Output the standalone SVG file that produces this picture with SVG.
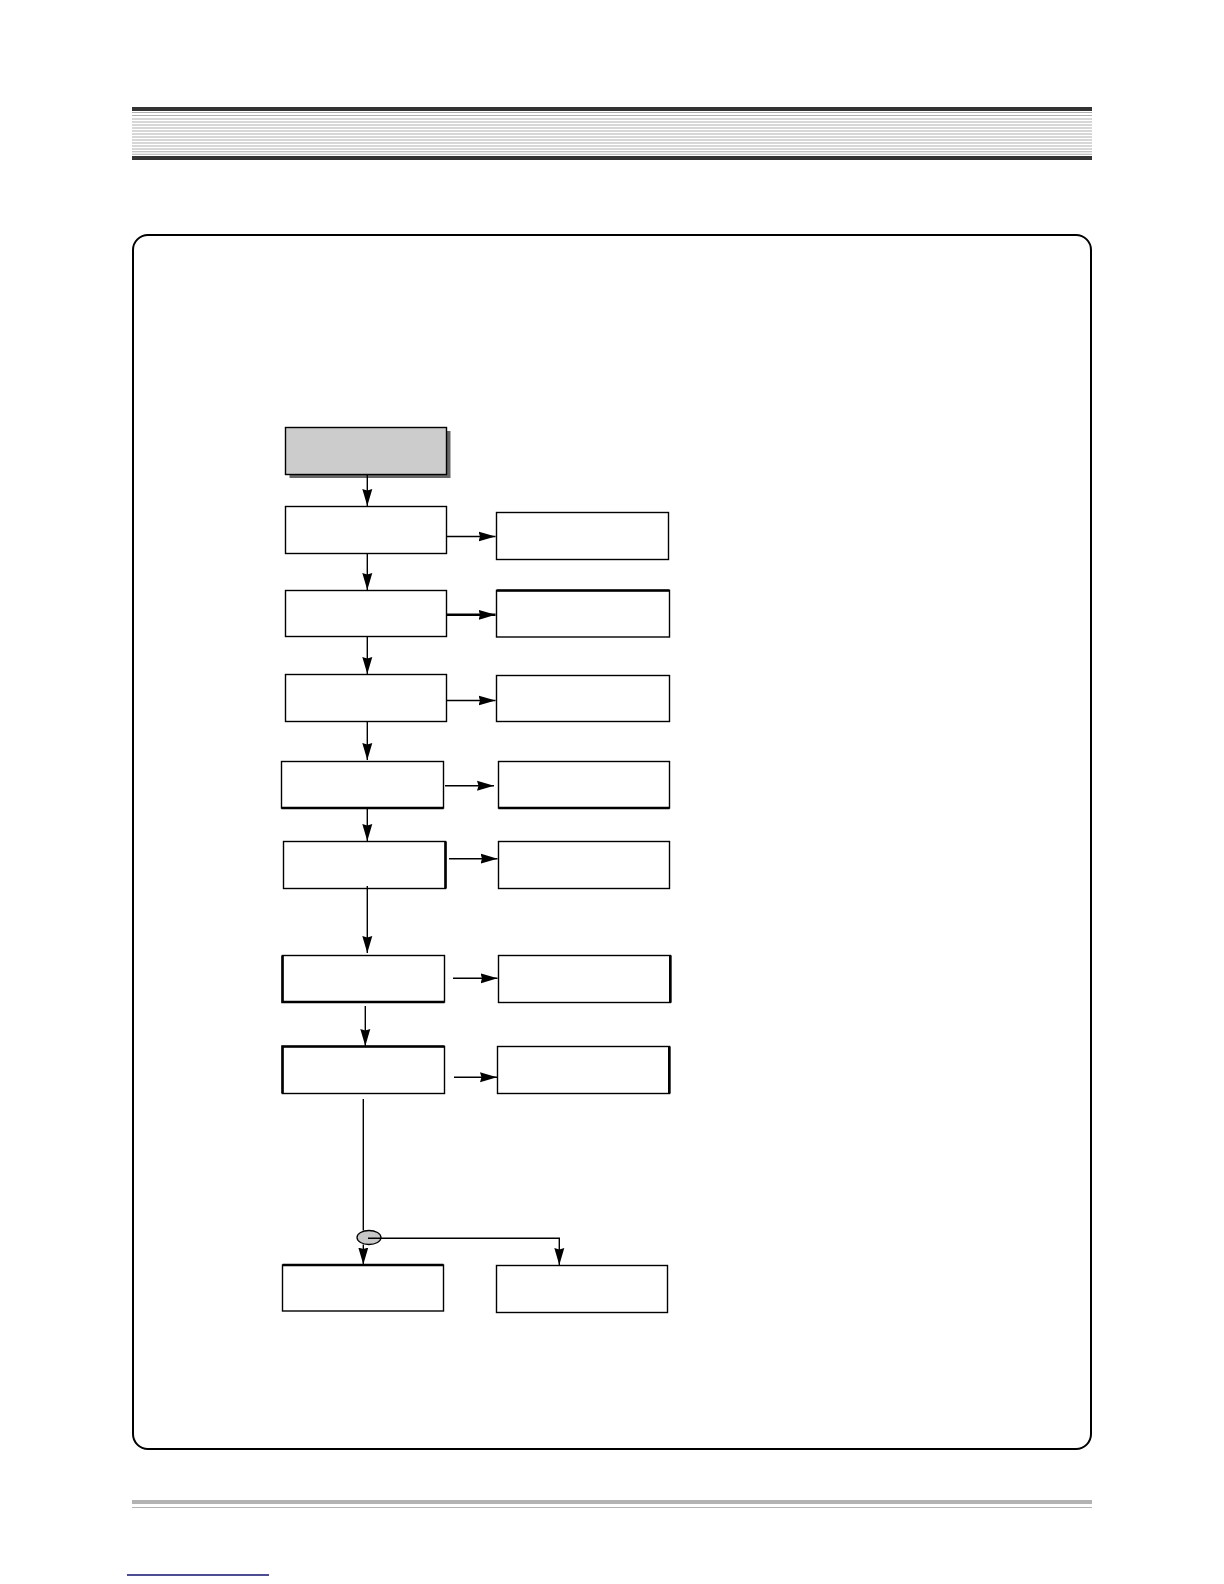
<svg xmlns="http://www.w3.org/2000/svg" width="1224" height="1584" viewBox="0 0 1224 1584">
<style>
.box{fill:#fff;stroke:#000;stroke-width:1.4}
.thick{stroke:#000;stroke-width:2.6;fill:none}
.c{stroke:#000;stroke-width:1.4;fill:none}
.cb{stroke:#000;stroke-width:2.4;fill:none}
.stripe{stroke:#b0b0b0;stroke-width:1.1}
</style>
<defs>
<marker id="ah" markerUnits="userSpaceOnUse" markerWidth="18" markerHeight="11" refX="17" refY="5.5" orient="auto" viewBox="0 0 18 11">
<path d="M0,0.5 L17,5.5 L0,10.5 L1.5,5.5 Z" fill="#000"/>
</marker>
</defs>
<rect width="1224" height="1584" fill="#fff"/>
<g id="header">
<rect x="132" y="107" width="960" height="4" fill="#333"/>
<g class="stripe">
<line x1="132" y1="112.5" x2="1092" y2="112.5"/>
<line x1="132" y1="115.5" x2="1092" y2="115.5"/>
<line x1="132" y1="119" x2="1092" y2="119"/>
<line x1="132" y1="122" x2="1092" y2="122"/>
<line x1="132" y1="125" x2="1092" y2="125"/>
<line x1="132" y1="128" x2="1092" y2="128"/>
<line x1="132" y1="131" x2="1092" y2="131"/>
<line x1="132" y1="134" x2="1092" y2="134"/>
<line x1="132" y1="137" x2="1092" y2="137"/>
<line x1="132" y1="140" x2="1092" y2="140"/>
<line x1="132" y1="143" x2="1092" y2="143"/>
<line x1="132" y1="146" x2="1092" y2="146"/>
<line x1="132" y1="149" x2="1092" y2="149"/>
<line x1="132" y1="151.7" x2="1092" y2="151.7"/>
<line x1="132" y1="154.3" x2="1092" y2="154.3"/>
</g>
<rect x="132" y="156" width="960" height="4" fill="#333"/>
</g>
<g id="frame">
<rect x="133" y="235" width="958" height="1214" rx="15" ry="15" fill="none" stroke="#000" stroke-width="2"/>
</g>
<g id="footer">
<rect x="132" y="1500" width="960" height="4" fill="#b3b3b3"/>
<line x1="132" y1="1507.5" x2="1092" y2="1507.5" stroke="#b3b3b3" stroke-width="1"/>
<line x1="127" y1="1575" x2="269" y2="1575" stroke="#10106e" stroke-width="1.3"/>
</g>
<g id="start">
<rect x="289.5" y="431" width="161" height="47" fill="#666"/>
<rect x="285.5" y="427.5" width="161" height="47" fill="#ccc" stroke="#000" stroke-width="1.4"/>
</g>
<g id="step1"><rect class="box" x="285.5" y="506.5" width="161" height="47"/></g>
<g id="result1"><rect class="box" x="496.5" y="512.5" width="172" height="47"/></g>
<g id="step2"><rect class="box" x="285.5" y="590.5" width="161" height="46"/></g>
<g id="result2"><rect class="box" x="496.5" y="590.5" width="173" height="46.5"/><line class="thick" x1="496.5" y1="590.5" x2="669.5" y2="590.5"/></g>
<g id="step3"><rect class="box" x="285.5" y="674.5" width="161" height="47"/></g>
<g id="result3"><rect class="box" x="496.5" y="675.5" width="173" height="46"/></g>
<g id="step4"><rect class="box" x="281.5" y="761.5" width="162" height="46.5"/><line class="thick" x1="281.5" y1="808" x2="443.5" y2="808"/></g>
<g id="result4"><rect class="box" x="498.5" y="761.5" width="171" height="46.5"/><line class="thick" x1="498.5" y1="808" x2="669.5" y2="808"/></g>
<g id="step5"><rect class="box" x="283.5" y="841.5" width="162" height="47"/><line class="thick" x1="445.5" y1="841.5" x2="445.5" y2="888.5"/></g>
<g id="result5"><rect class="box" x="498.5" y="841.5" width="171" height="47"/></g>
<g id="step6"><rect class="box" x="282.5" y="955.5" width="162" height="46.5"/><path class="thick" d="M282.5,955.5 V1002 H444.5"/></g>
<g id="result6"><rect class="box" x="498.5" y="955.5" width="172" height="47"/><line class="thick" x1="670.3" y1="955.5" x2="670.3" y2="1002.5"/></g>
<g id="step7"><rect class="box" x="282.5" y="1046.5" width="162" height="47"/><path class="thick" d="M282.5,1093.5 V1046.5 H444.5"/></g>
<g id="result7"><rect class="box" x="497.5" y="1046.5" width="172" height="47"/><line class="thick" x1="669.3" y1="1046.5" x2="669.3" y2="1093.5"/></g>
<g id="junction"><ellipse cx="369" cy="1237.5" rx="12" ry="7" fill="#c8c8c8" stroke="#000" stroke-width="1.3"/></g>
<g id="branchA"><rect class="box" x="282.5" y="1265" width="161" height="46"/><line class="thick" x1="282.5" y1="1265" x2="443.5" y2="1265"/></g>
<g id="branchB"><rect class="box" x="496.5" y="1265.5" width="171" height="47"/></g>
<g id="connectors">
<line class="c" x1="367.3" y1="474.5" x2="367.3" y2="506" marker-end="url(#ah)"/>
<line class="c" x1="446.5" y1="536.5" x2="495.5" y2="536.5" marker-end="url(#ah)"/>
<line class="c" x1="367.3" y1="553.5" x2="367.3" y2="590" marker-end="url(#ah)"/>
<line class="cb" x1="446.5" y1="614.8" x2="495.5" y2="614.8" marker-end="url(#ah)"/>
<line class="c" x1="367.3" y1="636.5" x2="367.3" y2="674" marker-end="url(#ah)"/>
<line class="c" x1="446.5" y1="700.5" x2="495.5" y2="700.5" marker-end="url(#ah)"/>
<line class="c" x1="367.3" y1="721.5" x2="367.3" y2="760" marker-end="url(#ah)"/>
<line class="c" x1="445" y1="785.7" x2="494" y2="785.7" marker-end="url(#ah)"/>
<line class="c" x1="367.3" y1="808" x2="367.3" y2="841" marker-end="url(#ah)"/>
<line class="c" x1="449" y1="858.7" x2="497.5" y2="858.7" marker-end="url(#ah)"/>
<line class="c" x1="367.3" y1="886" x2="367.3" y2="953" marker-end="url(#ah)"/>
<line class="c" x1="453" y1="978.3" x2="497.5" y2="978.3" marker-end="url(#ah)"/>
<line class="c" x1="365.3" y1="1006" x2="365.3" y2="1046" marker-end="url(#ah)"/>
<line class="c" x1="454" y1="1077.3" x2="497" y2="1077.3" marker-end="url(#ah)"/>
<line class="c" x1="363.3" y1="1099" x2="363.3" y2="1230.5"/>
<line class="c" x1="363.3" y1="1244.5" x2="363.3" y2="1264.5" marker-end="url(#ah)"/>
<path class="c" d="M368,1238.3 H559.3 V1265" marker-end="url(#ah)"/>
</g>
</svg>
